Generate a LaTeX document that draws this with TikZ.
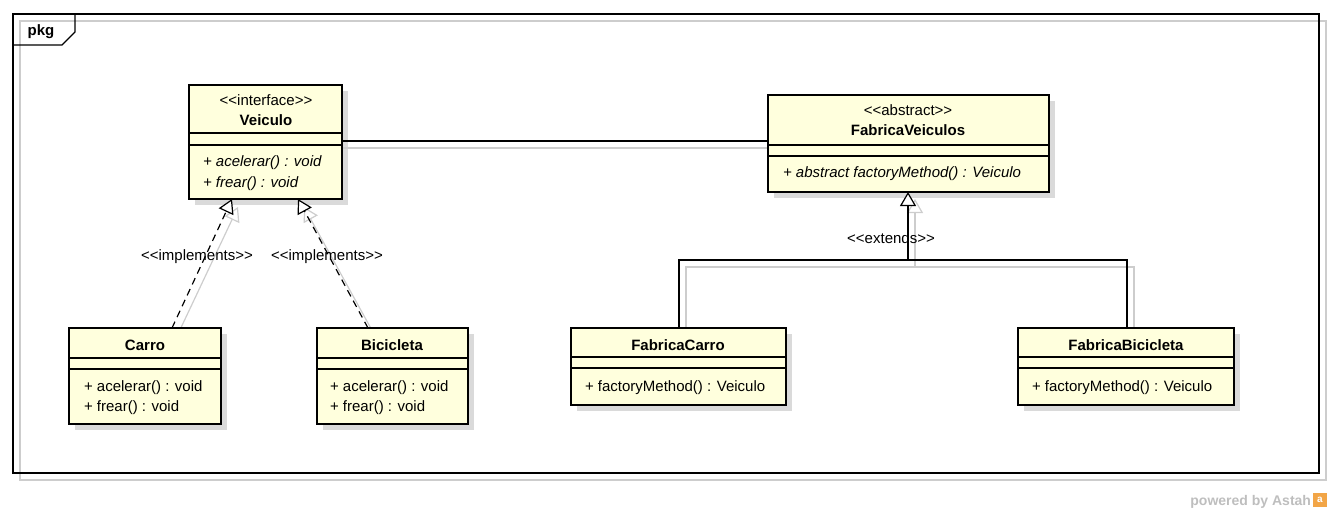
\documentclass[tikz,border=0pt]{standalone}
\usepackage{fontspec}
\setmainfont{Liberation Sans}[Ligatures=TeXOff]
\usetikzlibrary{arrows.meta}
\definecolor{boxfill}{RGB}{255,255,221}
\definecolor{shadowgray}{RGB}{218,218,218}
\definecolor{lightline}{RGB}{205,205,205}
\definecolor{footergray}{RGB}{190,190,190}
\definecolor{astahorange}{RGB}{242,165,70}
\begin{document}
\begin{tikzpicture}[x=1pt,y=-1pt,
  every node/.style={inner sep=0pt,outer sep=0pt,font=\fontsize{15}{18}\selectfont},
  classbox/.style={draw,line width=2.6pt,fill=boxfill,anchor=north west},
  shadowbox/.style={fill=shadowgray},
  sepline/.style={line width=1.1pt},
  conn/.style={line width=1.2pt},
  shadowline/.style={line width=1.2pt,draw=lightline},
  hollow/.style={-{Triangle[open,fill=white,length=14pt,width=16pt,line width=1.2pt]}},
  hollowgray/.style={-{Triangle[open,fill=white,length=14pt,width=16pt,line width=1.2pt]}},
  title/.style={anchor=base,font=\fontsize{15}{18}\selectfont\bfseries},
  stereo/.style={anchor=base},
  member/.style={anchor=base west},
  imember/.style={anchor=base west,font=\fontsize{15}{18}\selectfont\itshape},
  lbl/.style={anchor=base,fill=white,inner xsep=1pt}
]
\useasboundingbox (0,0) rectangle (1332,513);

% package frame
\draw[line width=1.1pt,draw=lightline] (20,21) rectangle (1326,480);
\draw[line width=1.1pt] (13,14) rectangle (1319,473);
\draw[line width=1.1pt] (13,45) -- (62,45) -- (75,32) -- (75,14);
\node[title] (pkg) at (41,36) {pkg};

% shadows of boxes
\fill[shadowbox] (195,91) rectangle (348,205);
\fill[shadowbox] (774,101) rectangle (1055,198);
\fill[shadowbox] (75,334) rectangle (227,430);
\fill[shadowbox] (323,334) rectangle (474,430);
\fill[shadowbox] (577,334) rectangle (792,411);
\fill[shadowbox] (1024,334) rectangle (1240,411);

% shadow connector lines
\draw[shadowline] (342,148) -- (768,148);
\draw[shadowline,hollowgray] (178,334) -- (238,207);
\draw[shadowline,hollowgray] (374,334) -- (304,207);
\draw[shadowline] (686,335) |- (915,267) -| (1134,335);
\draw[shadowline,hollowgray] (915,267) -- (915,199);

% class boxes
\node[classbox,minimum width=153,minimum height=114] (veiculo) at (189,85) {};
\node[classbox,minimum width=281,minimum height=97] (fv) at (768,95) {};
\node[classbox,minimum width=152,minimum height=96] (carro) at (69,328) {};
\node[classbox,minimum width=151,minimum height=96] (bici) at (317,328) {};
\node[classbox,minimum width=215,minimum height=77] (fcarro) at (571,328) {};
\node[classbox,minimum width=216,minimum height=77] (fbici) at (1018,328) {};

% separators
\draw[sepline] (189,133) -- (342,133) (189,145) -- (342,145);
\draw[sepline] (768,145) -- (1049,145) (768,156) -- (1049,156);
\draw[sepline] (69,358) -- (221,358) (69,369) -- (221,369);
\draw[sepline] (317,358) -- (468,358) (317,369) -- (468,369);
\draw[sepline] (571,357) -- (786,357) (571,368) -- (786,368);
\draw[sepline] (1018,357) -- (1234,357) (1018,368) -- (1234,368);

% texts: Veiculo
\node[stereo] (vst) at (266,106) {<<interface>>};
\node[title] (vname) at (266,126) {Veiculo};
\node[imember] (vm1) at (203,167) {+ acelerar() : void};
\node[imember] (vm2) at (203,187) {+ frear() : void};

% FabricaVeiculos
\node[stereo] (fvst) at (908,116) {<<abstract>>};
\node[title] (fvname) at (908,136) {FabricaVeiculos};
\node[imember] (fvm1) at (783,178) {+ abstract factoryMethod() : Veiculo};

% Carro
\node[title] (cname) at (145,350) {Carro};
\node[member] (cm1) at (84,391) {+ acelerar() : void};
\node[member] (cm2) at (84,411) {+ frear() : void};

% Bicicleta
\node[title] (bname) at (392,350) {Bicicleta};
\node[member] (bm1) at (330,391) {+ acelerar() : void};
\node[member] (bm2) at (330,411) {+ frear() : void};

% FabricaCarro
\node[title] (fcname) at (678,350) {FabricaCarro};
\node[member] (fcm1) at (585,391) {+ factoryMethod() : Veiculo};

% FabricaBicicleta
\node[title] (fbname) at (1126,350) {FabricaBicicleta};
\node[member] (fbm1) at (1032,391) {+ factoryMethod() : Veiculo};

% association
\draw[conn] (veiculo.east |- 0,141) -- (fv.west |- 0,141);

% realizations
\draw[conn,dashed,dash pattern=on 7pt off 5pt,hollow] (carro.north -| 172,0) -- (veiculo.south -| 232,0);
\draw[conn,dashed,dash pattern=on 7pt off 5pt,hollow] (bici.north -| 368,0) -- (veiculo.south -| 298,0);
\node[stereo] (impl1) at (197,260) {<<implements>>};
\node[stereo] (impl2) at (327,260) {<<implements>>};

% generalization
\coordinate (jn) at (908,260);
\draw[conn] (fcarro.north -| 679,0) |- (jn) -| (fbici.north -| 1127,0);
\draw[conn,hollow] (jn) -- (fv.south -| jn);
\node[stereo] (ext) at (891,243) {<<extends>>};

% footer
\node[anchor=base east,font=\fontsize{14}{16}\selectfont\bfseries,text=footergray] (footer) at (1311,505) {powered by Astah};
\node[fill=astahorange,minimum width=14,minimum height=14,anchor=south west,text=white,font=\fontsize{10}{10}\selectfont\bfseries] (logo) at (1313,507) {a};
\end{tikzpicture}
\end{document}
